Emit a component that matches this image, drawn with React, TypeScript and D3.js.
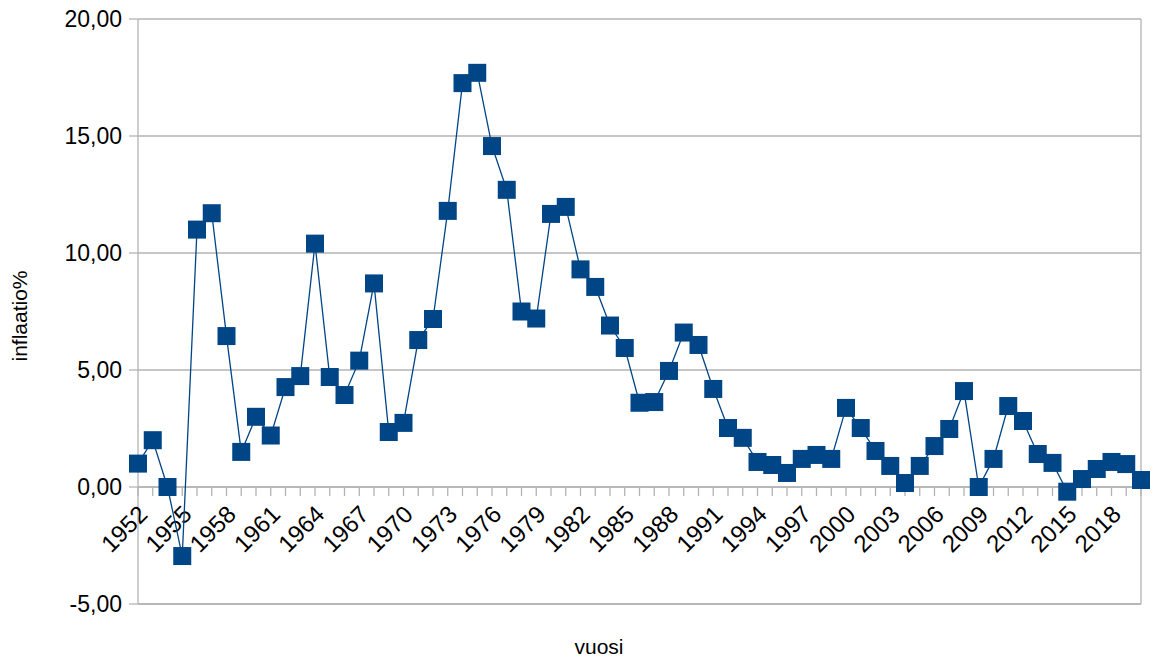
import React from "react";
import * as d3 from "d3";

const years: number[] = d3.range(1952, 2021);
const inflation: number[] = [
  1.0, 2.0, 0.0, -2.95, 11.0, 11.7, 6.45, 1.5, 3.0, 2.2,
  4.27, 4.74, 10.4, 4.7, 3.93, 5.4, 8.7, 2.35, 2.74, 6.28,
  7.18, 11.8, 17.26, 17.7, 14.57, 12.7, 7.5, 7.2, 11.67, 11.97,
  9.3, 8.55, 6.9, 5.94, 3.6, 3.63, 4.96, 6.6, 6.07, 4.19,
  2.52, 2.1, 1.07, 0.94, 0.6, 1.2, 1.37, 1.2, 3.38, 2.52,
  1.54, 0.9, 0.17, 0.9, 1.75, 2.48, 4.1, 0.0, 1.2, 3.46,
  2.82, 1.41, 1.03, -0.2, 0.34, 0.77, 1.07, 0.98, 0.3,
];
const yTicks: number[] = [-5, 0, 5, 10, 15, 20];
const yTickLabels: string[] = ["-5,00", "0,00", "5,00", "10,00", "15,00", "20,00"];
const xTitle = "vuosi";
const yTitle = "inflaatio%";

const W = 1154;
const H = 659;
const left = 138;
const right = 1141;
const top = 19;
const bottom = 604;
const blue = "#004586";
const grid = "#b3b3b3";
const font = "'Liberation Sans', Arial, sans-serif";

export default function App() {
  const x = d3.scaleLinear().domain([years[0], years[years.length - 1]]).range([left, right]);
  const y = d3.scaleLinear().domain([-5, 20]).range([bottom, top]);
  const line = d3
    .line<number>()
    .x((_, i) => x(years[i]))
    .y((d) => y(d));
  const m = 18;
  const y0 = y(0);
  return (
    <svg
      width={W}
      height={H}
      style={{ position: "absolute", left: 0, top: 0, background: "#fff" }}
      fontFamily={font}
    >
      <rect x={0} y={0} width={W} height={H} fill="#fff" />
      {yTicks.map((t, i) => (
        <g key={t}>
          <line x1={left} x2={right} y1={y(t)} y2={y(t)} stroke={grid} strokeWidth={1.3} />
          <line x1={left - 9} x2={left} y1={y(t)} y2={y(t)} stroke={grid} strokeWidth={1.3} />
          <text x={left - 16} y={y(t)} dy="0.36em" textAnchor="end" fontSize={23} fill="#000">
            {yTickLabels[i]}
          </text>
        </g>
      ))}
      <line x1={left} x2={left} y1={top} y2={bottom} stroke={grid} strokeWidth={1.3} />
      <line x1={right} x2={right} y1={top} y2={bottom} stroke={grid} strokeWidth={1.3} />
      <line x1={left} x2={right} y1={bottom} y2={bottom} stroke={grid} strokeWidth={1.3} />
      <line x1={left} x2={right} y1={y0} y2={y0} stroke={grid} strokeWidth={1.3} />
      {years.map((yr) => (
        <line key={yr} x1={x(yr)} x2={x(yr)} y1={y0} y2={y0 + 9} stroke={grid} strokeWidth={1.3} />
      ))}
      {years
        .filter((yr) => (yr - 1952) % 3 === 0)
        .map((yr) => (
          <text
            key={yr}
            transform={`translate(${x(yr) - 1},${y0 + 17}) rotate(-45)`}
            textAnchor="end"
            dy="0.7em"
            fontSize={24}
            fill="#000"
          >
            {yr}
          </text>
        ))}
      <path d={line(inflation) || ""} fill="none" stroke={blue} strokeWidth={1.3} />
      {inflation.map((v, i) => (
        <rect key={i} x={x(years[i]) - m / 2} y={y(v) - m / 2} width={m} height={m} fill={blue} />
      ))}
      <text x={599} y={654} textAnchor="middle" fontSize={21} fill="#000">
        {xTitle}
      </text>
      <text
        transform={`translate(${27},${316}) rotate(-90)`}
        textAnchor="middle"
        fontSize={21}
        fill="#000"
      >
        {yTitle}
      </text>
    </svg>
  );
}
